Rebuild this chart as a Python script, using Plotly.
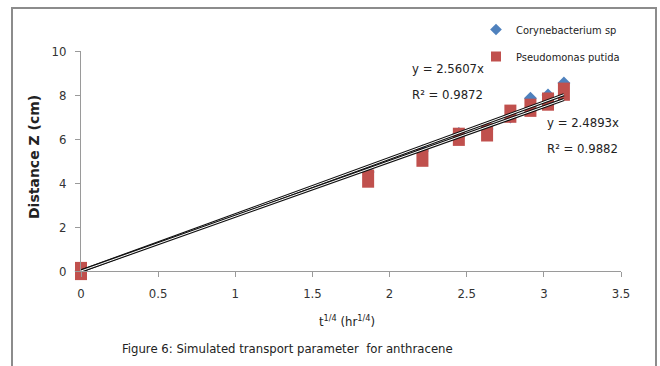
import plotly.graph_objects as go

# t^(1/4) in hr^(1/4) and migration distance Z in cm
t_quarter = [0, 1.861, 2.213, 2.449, 2.632, 2.783, 2.913, 3.027, 3.130]
coryne_z = [0, 4.5, 5.45, 6.25, 6.45, 7.0, 7.85, 8.0, 8.55]
pseudo_z = [0, 4.2, 5.15, 6.1, 6.3, 7.15, 7.42, 7.7, 8.15]

# zero-intercept linear fits
coryne_slope, coryne_r2 = 2.5607, 0.9872
pseudo_slope, pseudo_r2 = 2.4893, 0.9882

x_ticks = [0, 0.5, 1, 1.5, 2, 2.5, 3, 3.5]
y_ticks = [0, 2, 4, 6, 8, 10]

BLUE = "#4F81BD"
RED = "#C0504D"
NARROW = "DejaVu Sans Condensed, Liberation Sans Narrow, sans-serif"

fig = go.Figure()

# data markers (Corynebacterium underneath, Pseudomonas on top)
fig.add_trace(go.Scatter(
    x=t_quarter, y=coryne_z, mode="markers", showlegend=False, cliponaxis=False,
    marker=dict(symbol="diamond", size=10, color=BLUE),
))
fig.add_trace(go.Scatter(
    x=t_quarter, y=pseudo_z, mode="markers", showlegend=False, cliponaxis=False,
    marker=dict(symbol="line-ns", size=13, line=dict(width=12, color=RED)),
))

# double-line trendlines: a dark stroke with a white core
x_fit = [0, max(t_quarter)]
for slope in (coryne_slope, pseudo_slope):
    y_fit = [slope * v for v in x_fit]
    fig.add_trace(go.Scatter(x=x_fit, y=y_fit, mode="lines", showlegend=False,
                             line=dict(color="#111111", width=3.2), hoverinfo="skip"))
    fig.add_trace(go.Scatter(x=x_fit, y=y_fit, mode="lines", showlegend=False,
                             line=dict(color="white", width=1.0), hoverinfo="skip"))

# legend entries
fig.add_trace(go.Scatter(x=[None], y=[None], mode="markers", name="Corynebacterium sp",
                         legendgroup="a", marker=dict(symbol="diamond", size=9, color=BLUE)))
fig.add_trace(go.Scatter(x=[None], y=[None], mode="markers", name="Pseudomonas putida",
                         legendgroup="b", marker=dict(symbol="square", size=10, color=RED)))

eq_font = dict(family=NARROW, size=13, color="#222222")
annotations = [
    dict(x=2.13, y=9.2, text=f"y = {coryne_slope}x"),
    dict(x=2.13, y=8.03, text=f"R² = {coryne_r2}"),
    dict(x=3.01, y=6.76, text=f"y = {pseudo_slope}x"),
    dict(x=3.01, y=5.59, text=f"R² = {pseudo_r2}"),
]
for a in annotations:
    a.update(xref="x", yref="y", xanchor="left", yanchor="middle",
             showarrow=False, font=eq_font)

annotations.append(dict(
    xref="paper", yref="paper", x=(347 - 81) / 540, y=-(321 - 271) / 220,
    xanchor="center", yanchor="middle", showarrow=False,
    text="t<sup>1/4</sup> (hr<sup>1/4</sup>)",
    font=dict(family=NARROW, size=13, color="#222222"),
))
annotations.append(dict(
    xref="paper", yref="paper", x=(287 - 81) / 540, y=-(348 - 271) / 220,
    xanchor="center", yanchor="middle", showarrow=False,
    text="Figure 6: Simulated transport parameter  for anthracene",
    font=dict(family=NARROW, size=13, color="#222222"),
))
annotations.append(dict(
    xref="paper", yref="paper", x=(34 - 81) / 540, y=(271 - 157) / 220,
    xanchor="center", yanchor="middle", showarrow=False, textangle=-90,
    text="<b>Distance Z (cm)</b>",
    font=dict(family="DejaVu Sans, Verdana, sans-serif", size=14, color="#222222"),
))

axis_common = dict(
    showline=True, linecolor="#9a9a9a", linewidth=1,
    ticks="outside", ticklen=5, tickcolor="#9a9a9a", tickwidth=1,
    showgrid=False, zeroline=False,
    tickfont=dict(family=NARROW, size=13, color="#333333"),
)

fig.update_layout(
    width=660, height=366,
    margin=dict(l=81, r=39, t=51, b=95, autoexpand=False),
    paper_bgcolor="white", plot_bgcolor="white",
    xaxis=dict(range=[0, 3.5], tickvals=x_ticks, ticklabelstandoff=5, **axis_common),
    yaxis=dict(range=[0, 10], tickvals=y_ticks, ticklabelstandoff=6, **axis_common),
    legend=dict(xref="container", yref="container", x=476 / 660, y=1 - 15 / 366,
                xanchor="left", yanchor="top", tracegroupgap=8,
                font=dict(family=NARROW, size=11, color="#222222"),
                bgcolor="rgba(0,0,0,0)"),
    annotations=annotations,
    shapes=[dict(type="rect", xref="paper", yref="paper",
                 x0=(12 - 81) / 540, x1=(656 - 81) / 540,
                 y0=-(372 - 271) / 220, y1=(271 - 8) / 220,
                 line=dict(color="#8c8c8c", width=2), layer="below")],
)

fig.write_html("out.html")
